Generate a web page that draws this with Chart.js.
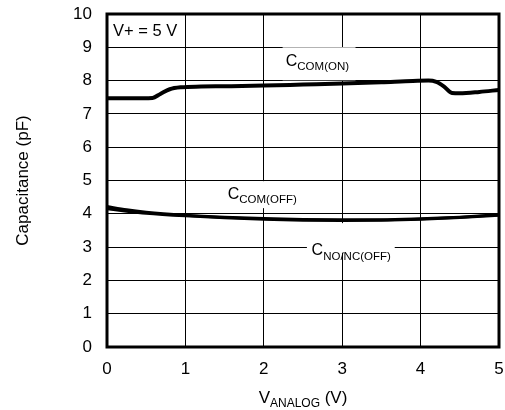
<!DOCTYPE html>
<html><head><meta charset="utf-8">
<script src="https://cdn.jsdelivr.net/npm/chart.js@4/dist/chart.umd.min.js"></script>
<style>html,body{margin:0;padding:0;background:#fff}#wrap{width:505px;height:410px}</style>
</head><body><div id="wrap"><canvas id="c" width="505" height="410"></canvas></div>
<script>
// ---- data ----
const xTickValues = [0, 1, 2, 3, 4, 5];
const yTickValues = [0, 1, 2, 3, 4, 5, 6, 7, 8, 9, 10];

const comOnV = [0, 0.3, 0.58, 0.68, 0.8, 0.95, 1.2, 1.5, 2, 2.5, 3, 3.5, 3.9, 4.1, 4.2, 4.3, 4.4, 4.5, 4.75, 5];
const comOnC = [7.47, 7.47, 7.48, 7.6, 7.74, 7.8, 7.82, 7.83, 7.85, 7.88, 7.91, 7.95, 7.99, 8.0, 7.96, 7.82, 7.63, 7.62, 7.66, 7.72];

const comOffV = [0, 0.25, 0.5, 1, 1.5, 2, 2.5, 3, 3.5, 4, 4.5, 5];
const comOffC = [4.22, 4.12, 4.05, 3.96, 3.9, 3.86, 3.83, 3.82, 3.82, 3.85, 3.9, 3.97];

const noncOffV = [0, 0.25, 0.5, 1, 1.5, 2, 2.5, 3, 3.5, 4, 4.5, 5];
const noncOffC = [4.15, 4.08, 4.02, 3.94, 3.88, 3.84, 3.81, 3.8, 3.81, 3.84, 3.89, 3.96];

const seriesNames = ['C_COM(ON)', 'C_COM(OFF)', 'C_NO/NC(OFF)'];
const conditionText = 'V+ = 5 V';
const yTitle = 'Capacitance (pF)';
const xTitleMain = 'V', xTitleSub = 'ANALOG', xTitleTail = ' (V)';

// ---- presentation ----
const FONT = '"Liberation Sans", Arial, Helvetica, sans-serif';
const toXY = (xs, ys) => xs.map((x, i) => ({x, y: ys[i]}));

// curve labels: text-left x (data), text-centre y (data), white box x1, x2, y1, y2 (data)
const curveLabels = [
  {main: 'C', sub: 'COM(ON)', x: 2.28, y: 8.58, box: [2.24, 3.17, 8.01, 9.0]},
  {main: 'C', sub: 'COM(OFF)', x: 1.54, y: 4.59, box: [1.50, 2.50, 4.17, 4.98]},
  {main: 'C', sub: 'NO/NC(OFF)', x: 2.61, y: 2.90, box: [2.55, 3.67, 2.82, 3.72]}
];

function drawSubText(ctx, x, yMid, main, sub, mainSize, subSize) {
  ctx.textBaseline = 'middle';
  ctx.textAlign = 'left';
  ctx.fillStyle = '#000';
  ctx.font = mainSize + 'px ' + FONT;
  ctx.fillText(main, x, yMid);
  const w = ctx.measureText(main).width;
  ctx.font = subSize + 'px ' + FONT;
  ctx.fillText(sub, x + w, yMid + 6);
}

const annotPlugin = {
  id: 'annot',
  beforeDatasetsDraw(chart) {
    const {ctx, scales: {x, y}} = chart;
    ctx.save();
    curveLabels.forEach(l => {
      const x1 = x.getPixelForValue(l.box[0]), x2 = x.getPixelForValue(l.box[1]);
      const y1 = y.getPixelForValue(l.box[3]), y2 = y.getPixelForValue(l.box[2]);
      ctx.fillStyle = '#fff';
      ctx.fillRect(x1, y1, x2 - x1, y2 - y1);
      drawSubText(ctx, x.getPixelForValue(l.x), y.getPixelForValue(l.y), l.main, l.sub, 16, 11.5);
    });
    ctx.font = '16.5px ' + FONT;
    ctx.fillStyle = '#000';
    ctx.textBaseline = 'middle';
    ctx.textAlign = 'left';
    ctx.fillText(conditionText, x.getPixelForValue(0.077), y.getPixelForValue(9.47));
    ctx.restore();
  },
  afterDraw(chart) {
    const {ctx, chartArea: a} = chart;
    ctx.save();
    ctx.strokeStyle = '#000';
    ctx.lineWidth = 3;
    ctx.strokeRect(a.left, a.top, a.right - a.left, a.bottom - a.top);
    // x axis title with subscript
    const mainF = '17px ' + FONT, subF = '12px ' + FONT;
    ctx.font = mainF;
    const w1 = ctx.measureText(xTitleMain).width;
    const w3 = ctx.measureText(xTitleTail).width;
    ctx.font = subF;
    const w2 = ctx.measureText(xTitleSub).width;
    const total = w1 + w2 + w3;
    let cx = (a.left + a.right) / 2 - total / 2;
    const base = 403;
    ctx.fillStyle = '#000';
    ctx.textBaseline = 'alphabetic';
    ctx.textAlign = 'left';
    ctx.font = mainF;
    ctx.fillText(xTitleMain, cx, base);
    cx += w1;
    ctx.font = subF;
    ctx.fillText(xTitleSub, cx, base + 4);
    cx += w2;
    ctx.font = mainF;
    ctx.fillText(xTitleTail, cx, base);
    ctx.restore();
  }
};

const lineStyle = {borderColor: '#000', backgroundColor: '#000', pointRadius: 0, fill: false, cubicInterpolationMode: 'monotone'};

new Chart(document.getElementById('c'), {
  type: 'line',
  data: {
    datasets: [
      Object.assign({label: seriesNames[0], data: toXY(comOnV, comOnC), borderWidth: 4}, lineStyle),
      Object.assign({label: seriesNames[1], data: toXY(comOffV, comOffC), borderWidth: 3}, lineStyle),
      Object.assign({label: seriesNames[2], data: toXY(noncOffV, noncOffC), borderWidth: 3}, lineStyle)
    ]
  },
  options: {
    responsive: false,
    animation: false,
    layout: {padding: {left: 0, right: 6, top: 14, bottom: 0}},
    plugins: {legend: {display: false}, tooltip: {enabled: false}},
    scales: {
      x: {
        type: 'linear', min: 0, max: 5,
        afterBuildTicks: s => { s.ticks = xTickValues.map(v => ({value: v})); },
        grid: {color: '#000', lineWidth: 1, drawTicks: false},
        border: {display: false},
        ticks: {color: '#000', font: {size: 17, family: FONT}, padding: 12, maxRotation: 0},
        title: {display: false},
        afterFit: s => { s.height = 63; s.paddingLeft = 0; s.paddingRight = 0; }
      },
      y: {
        type: 'linear', min: 0, max: 10,
        afterBuildTicks: s => { s.ticks = yTickValues.map(v => ({value: v})); },
        grid: {color: '#000', lineWidth: 1, drawTicks: false},
        border: {display: false},
        ticks: {color: '#000', font: {size: 17, family: FONT}, padding: 15},
        title: {display: true, text: yTitle, color: '#000', font: {size: 17, family: FONT}, padding: {top: 13, bottom: 0}},
        afterFit: s => { s.width = 107; s.paddingTop = 0; s.paddingBottom = 0; }
      }
    }
  },
  plugins: [annotPlugin]
});
</script>
</body></html>
